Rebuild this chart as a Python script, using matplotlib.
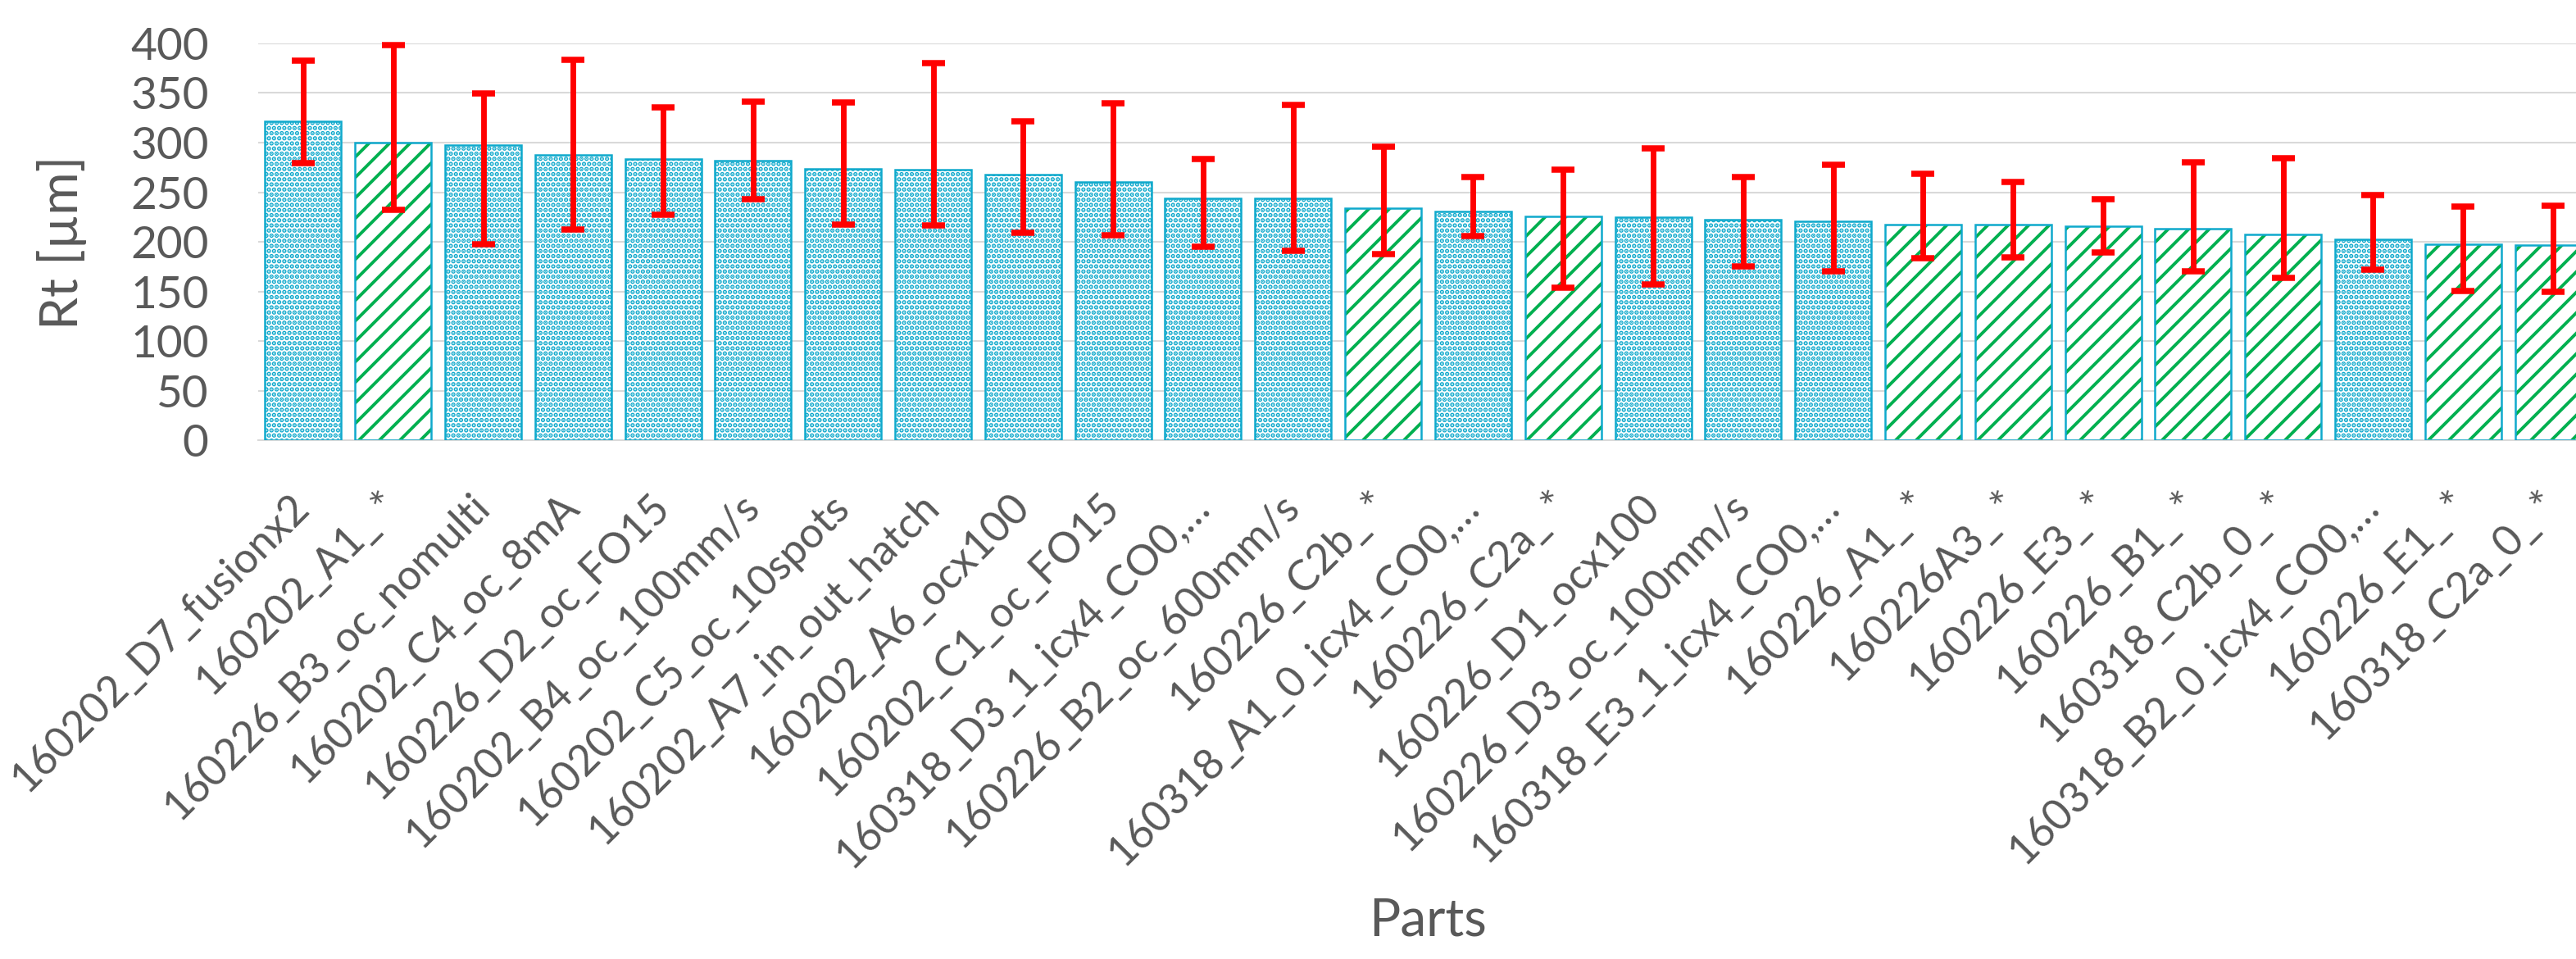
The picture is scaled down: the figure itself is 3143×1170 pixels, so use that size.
import matplotlib
matplotlib.use('Agg')
import matplotlib.pyplot as plt
import numpy as np

# Part names (x axis), in the order they appear
parts = [
    '160202_D7_fusionx2', '160202_A1_ *', '160226_B3_oc_nomulti', '160202_C4_oc_8mA',
    '160226_D2_oc_FO15', '160202_B4_oc_100mm/s', '160202_C5_oc_10spots',
    '160202_A7_in_out_hatch', '160202_A6_ocx100', '160202_C1_oc_FO15',
    '160318_D3_1_icx4_CO0,…', '160226_B2_oc_600mm/s', '160226_C2b_ *',
    '160318_A1_0_icx4_CO0,…', '160226_C2a_ *', '160226_D1_ocx100',
    '160226_D3_oc_100mm/s', '160318_E3_1_icx4_CO0,…', '160226_A1_ *',
    '160226A3_ *', '160226_E3_ *', '160226_B1_ *', '160318_C2b_0_ *',
    '160318_B2_0_icx4_CO0,…', '160226_E1_ *', '160318_C2a_0_ *',
]

# Rt mean value per part [um]
rt_mean = [321.3, 299.8, 297.4, 287.4, 283.9, 282.1, 273.8, 272.7, 267.9, 260.6,
           243.8, 243.8, 234.3, 230.5, 225.5, 224.9, 222.8, 220.8, 217.2, 217.2,
           215.8, 213.4, 207.5, 202.8, 198.1, 196.6]

# lower / upper end of the error bars [um]
rt_low = [279.7, 232.6, 197.5, 212.8, 227.0, 243.2, 217.5, 216.4, 209.6, 206.6,
          195.1, 190.7, 187.5, 206.0, 153.6, 157.1, 175.1, 170.7, 183.6, 184.8,
          189.2, 170.4, 164.2, 172.4, 150.9, 149.7]
rt_high = [382.6, 397.9, 349.9, 383.2, 335.2, 341.3, 340.8, 380.5, 321.3, 339.9,
           283.6, 337.8, 296.2, 265.6, 272.7, 294.5, 265.3, 278.0, 268.8, 260.3,
           242.9, 280.6, 284.5, 247.6, 235.8, 236.4]

DPI = 150
W, H = 3143, 1170
GREY = '#595959'
GRID = '#D9D9D9'
CYAN = '#0FA9CC'
GREEN = '#00B050'

plt.rcParams['font.family'] = ['Lato', 'DejaVu Sans']
plt.rcParams['hatch.linewidth'] = 1.85

fig = plt.figure(figsize=(W / DPI, H / DPI), dpi=DPI)
ax = fig.add_axes([315 / W, 1 - 537.5 / H, (3170 - 315) / W, 484.6 / H])

x = np.arange(len(parts))
mean = np.array(rt_mean)
low = np.array(rt_low)
high = np.array(rt_high)
starred = np.array(['*' in p for p in parts])
bw = 0.847

# dotted bars (cyan) and striped bars (green)
ax.bar(x[~starred], mean[~starred], width=bw, color='white', edgecolor=CYAN,
       hatch='....', linewidth=0, zorder=2)
ax.bar(x[starred], mean[starred], width=bw, color='white', edgecolor=GREEN,
       hatch='//', linewidth=0, zorder=2)
# outline for all bars
ax.bar(x, mean, width=bw, fill=False, edgecolor=CYAN, linewidth=1.2, zorder=3)

ax.errorbar(x, mean, yerr=[mean - low, high - mean], fmt='none', ecolor='#FF0000',
            elinewidth=3.3, capsize=6.5, capthick=3.6, zorder=4, clip_on=False)

ax.set_ylim(0, 400)
ax.set_xlim(-0.5, 25.5)
ax.set_yticks(np.arange(0, 401, 50))
ax.yaxis.grid(True, color=GRID, linewidth=1.0)
ax.set_axisbelow(True)
for s in ['top', 'right', 'left']:
    ax.spines[s].set_visible(False)
ax.spines['bottom'].set_color(GRID)
ax.spines['bottom'].set_linewidth(1.0)

ax.tick_params(axis='y', length=0, labelsize=26.4, labelcolor=GREY, pad=29)
ax.tick_params(axis='x', length=0, labelsize=24.8, labelcolor=GREY, pad=35)
ax.set_xticks(x)
ax.set_xticklabels(parts, rotation=45, ha='right', va='center', rotation_mode='anchor')

fig.text(94.6 / W, 1 - 296 / H, 'Rt [µm]', rotation=90, rotation_mode='anchor',
         ha='center', va='baseline', fontsize=30.7, color=GREY)
fig.text(1742 / W, 1 - 1142 / H, 'Parts', ha='center', va='baseline',
         fontsize=30.7, color=GREY)

fig.savefig('out.png', dpi=DPI, facecolor='white')
